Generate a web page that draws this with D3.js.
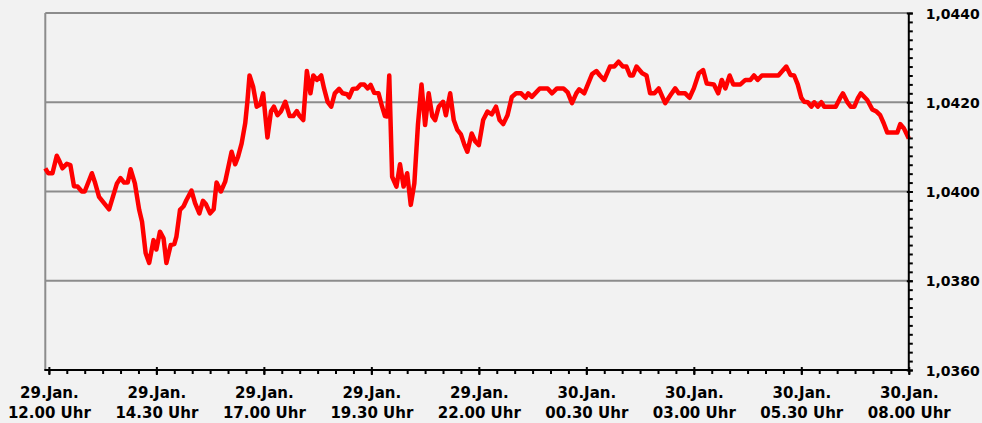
<!DOCTYPE html>
<html>
<head>
<meta charset="utf-8">
<script src="https://cdn.jsdelivr.net/npm/d3@7"></script>
<style>
  html, body { margin: 0; padding: 0; background: #f2f2f2; }
  svg { display: block; }
  text { font-family: "DejaVu Sans", Verdana, sans-serif; font-weight: bold; font-size: 15px; fill: #000; }
</style>
</head>
<body>
<svg id="chart" width="982" height="423"></svg>
<script>
// ---- data ----
const times = [
  "29 11:55","29 11:59","29 12:05","29 12:11","29 12:15","29 12:19","29 12:25","29 12:30","29 12:35","29 12:40",
  "29 12:46","29 12:50","29 13:00","29 13:04","29 13:10","29 13:24","29 13:35","29 13:40","29 13:45","29 13:50",
  "29 13:54","29 14:00","29 14:06","29 14:10","29 14:15","29 14:20","29 14:26","29 14:30","29 14:35","29 14:40",
  "29 14:44","29 14:50","29 14:55","29 14:58","29 15:03","29 15:08","29 15:12","29 15:19","29 15:24","29 15:30",
  "29 15:35","29 15:39","29 15:45","29 15:50","29 15:54","29 16:00","29 16:06","29 16:15","29 16:20","29 16:24",
  "29 16:29","29 16:34","29 16:37","29 16:40","29 16:45","29 16:50","29 16:55","29 16:59","29 17:05","29 17:10",
  "29 17:14","29 17:19","29 17:24","29 17:30","29 17:36","29 17:41","29 17:46","29 17:50","29 17:55","29 18:00",
  "29 18:05","29 18:09","29 18:14","29 18:20","29 18:24","29 18:29","29 18:34","29 18:39","29 18:45","29 18:50",
  "29 18:56","29 18:59","29 19:04","29 19:10","29 19:15","29 19:20","29 19:25","29 19:29","29 19:34","29 19:40",
  "29 19:45","29 19:49","29 19:52","29 19:55","29 19:59","29 20:05","29 20:10","29 20:15","29 20:20","29 20:25",
  "29 20:30","29 20:35","29 20:40","29 20:45","29 20:50","29 20:55","29 20:59","29 21:04","29 21:10","29 21:14",
  "29 21:20","29 21:25","29 21:30","29 21:35","29 21:40","29 21:44","29 21:50","29 21:55","29 22:00","29 22:06",
  "29 22:12","29 22:18","29 22:24","29 22:29","29 22:34","29 22:40","29 22:46","29 22:52","29 22:59","29 23:05",
  "29 23:09","29 23:14","29 23:25","29 23:36","29 23:42","29 23:49","29 23:58","30 00:04","30 00:10","30 00:16",
  "30 00:20","30 00:27","30 00:38","30 00:44","30 00:49","30 00:55","30 01:03","30 01:09","30 01:15","30 01:21",
  "30 01:26","30 01:31","30 01:35","30 01:40","30 01:48","30 01:54","30 01:59","30 02:05","30 02:11","30 02:20",
  "30 02:27","30 02:34","30 02:39","30 02:48","30 02:54","30 03:00","30 03:07","30 03:13","30 03:18","30 03:28",
  "30 03:34","30 03:39","30 03:44","30 03:50","30 03:55","30 04:05","30 04:12","30 04:19","30 04:24","30 04:29",
  "30 04:35","30 04:58","30 05:09","30 05:15","30 05:20","30 05:25","30 05:30","30 05:34","30 05:39","30 05:44",
  "30 05:48","30 05:53","30 05:58","30 06:02","30 06:18","30 06:24","30 06:28","30 06:34","30 06:39","30 06:44",
  "30 06:49","30 06:53","30 07:02","30 07:09","30 07:15","30 07:20","30 07:25","30 07:30","30 07:44","30 07:48",
  "30 07:53","30 08:00"
];
const values = [
  1.04052,1.04041,1.04041,1.04080,1.04067,1.04052,1.04062,1.04059,1.04012,1.04011,
  1.04000,1.04000,1.04041,1.04022,1.03988,1.03960,1.04018,1.04030,1.04020,1.04020,
  1.04050,1.04018,1.03959,1.03932,1.03862,1.03840,1.03891,1.03870,1.03910,1.03895,
  1.03840,1.03880,1.03882,1.03899,1.03959,1.03967,1.03981,1.04002,1.03974,1.03951,
  1.03979,1.03972,1.03951,1.03960,1.04020,1.04000,1.04022,1.04089,1.04061,1.04078,
  1.04108,1.04153,1.04201,1.04260,1.04235,1.04190,1.04195,1.04220,1.04121,1.04180,
  1.04190,1.04171,1.04180,1.04201,1.04169,1.04169,1.04180,1.04169,1.04160,1.04270,
  1.04220,1.04260,1.04250,1.04260,1.04231,1.04201,1.04190,1.04220,1.04230,1.04220,
  1.04218,1.04211,1.04230,1.04231,1.04240,1.04240,1.04231,1.04239,1.04221,1.04220,
  1.04190,1.04169,1.04168,1.04260,1.04033,1.04011,1.04061,1.04011,1.04041,1.03970,
  1.04018,1.04149,1.04240,1.04149,1.04220,1.04169,1.04160,1.04190,1.04201,1.04171,
  1.04220,1.04160,1.04138,1.04128,1.04104,1.04089,1.04130,1.04112,1.04104,1.04160,
  1.04179,1.04173,1.04190,1.04160,1.04151,1.04171,1.04212,1.04220,1.04220,1.04210,
  1.04220,1.04212,1.04231,1.04231,1.04220,1.04231,1.04231,1.04222,1.04198,1.04220,
  1.04229,1.04220,1.04263,1.04270,1.04260,1.04250,1.04280,1.04280,1.04291,1.04280,
  1.04280,1.04260,1.04260,1.04280,1.04265,1.04260,1.04220,1.04220,1.04231,1.04198,
  1.04215,1.04231,1.04220,1.04220,1.04210,1.04231,1.04265,1.04272,1.04242,1.04240,
  1.04220,1.04250,1.04231,1.04260,1.04240,1.04240,1.04250,1.04250,1.04260,1.04250,
  1.04260,1.04260,1.04280,1.04261,1.04260,1.04240,1.04210,1.04201,1.04200,1.04190,
  1.04200,1.04190,1.04200,1.04190,1.04190,1.04209,1.04220,1.04201,1.04190,1.04190,
  1.04209,1.04220,1.04205,1.04184,1.04179,1.04171,1.04153,1.04132,1.04132,1.04151,
  1.04142,1.04119
];
const xDomain = ["29 11:55", "30 08:00"];
const xTickTimes = ["29 12:00","29 14:30","29 17:00","29 19:30","29 22:00","30 00:30","30 03:00","30 05:30","30 08:00"];
const xTickLine1 = ["29.Jan.","29.Jan.","29.Jan.","29.Jan.","29.Jan.","30.Jan.","30.Jan.","30.Jan.","30.Jan."];
const xTickLine2 = ["12.00 Uhr","14.30 Uhr","17.00 Uhr","19.30 Uhr","22.00 Uhr","00.30 Uhr","03.00 Uhr","05.30 Uhr","08.00 Uhr"];
const xMinorStepMinutes = 25;
const yDomain = [1.0360, 1.0440];
const yTicks = [1.0360, 1.0380, 1.0400, 1.0420, 1.0440];
const yMinorStep = 0.0002;

// ---- chart ----
const parse = d3.timeParse("%d %H:%M");
const data = times.map((t, i) => ({ t: parse(t), v: values[i] }));

const L = 45.3, R = 908.8, T = 13, B = 370;
const svg = d3.select("#chart");

const x = d3.scaleTime().domain(xDomain.map(parse)).range([L, R]);
const y = d3.scaleLinear().domain(yDomain).range([B, T]);

const de = d3.formatLocale({ decimal: ",", thousands: ".", grouping: [3], currency: ["", "€"] });
const yFmt = de.format(".4f");
const FONT = '"DejaVu Sans", Verdana, sans-serif';

// background
svg.append("rect").attr("width", 982).attr("height", 423).attr("fill", "#f2f2f2");

// gridlines (incl. top border)
svg.append("g").selectAll("line")
  .data(yTicks.filter(d => d > yDomain[0]))
  .join("line")
  .attr("x1", L).attr("x2", R)
  .attr("y1", d => y(d)).attr("y2", d => y(d))
  .attr("stroke", "#8c8c8c").attr("stroke-width", 2);

// left border
svg.append("line")
  .attr("x1", L).attr("x2", L).attr("y1", T).attr("y2", B)
  .attr("stroke", "#8c8c8c").attr("stroke-width", 2);

// data line
const line = d3.line().x(d => x(d.t)).y(d => y(d.v));
svg.append("path")
  .datum(data)
  .attr("d", line)
  .attr("fill", "none")
  .attr("stroke", "#ff0000")
  .attr("stroke-width", 4.5)
  .attr("stroke-linejoin", "round")
  .attr("stroke-linecap", "butt");

// bottom axis: minor ticks
const t0 = parse(xTickTimes[0]);
const tEnd = parse(xTickTimes[xTickTimes.length - 1]);
const xMinor = d3.timeMinute.every(1).range(t0, d3.timeMinute.offset(tEnd, 1))
  .filter(d => ((d - t0) / 60000) % xMinorStepMinutes === 0);

const gxMinor = svg.append("g").attr("transform", `translate(0,${B})`)
  .call(d3.axisBottom(x).tickValues(xMinor).tickSizeInner(4).tickSizeOuter(0).tickFormat(""));
gxMinor.select(".domain").remove();
gxMinor.selectAll(".tick line").attr("stroke", "#000").attr("stroke-width", 2);

const gx = svg.append("g").attr("transform", `translate(0,${B})`)
  .call(d3.axisBottom(x).tickValues(xTickTimes.map(parse)).tickSizeInner(5).tickSizeOuter(0).tickFormat(""));
gx.select(".domain").remove();
gx.selectAll(".tick line").attr("stroke", "#000").attr("stroke-width", 2).attr("y1", -3);
gx.selectAll(".tick").each(function(d, i) {
  const txt = d3.select(this).append("text").attr("text-anchor", "middle").attr("fill", "#000")
    .style("font-family", FONT).style("font-weight", "bold").style("font-size", "15px");
  txt.append("tspan").attr("x", 0).attr("y", 28).text(xTickLine1[i]);
  txt.append("tspan").attr("x", 0).attr("y", 47.5).text(xTickLine2[i]);
});
svg.append("line")
  .attr("x1", L - 1).attr("x2", R + 1).attr("y1", B).attr("y2", B)
  .attr("stroke", "#000").attr("stroke-width", 2);

// right axis
const yMinor = d3.range(yDomain[0], yDomain[1] + yMinorStep / 2, yMinorStep);
const gyMinor = svg.append("g").attr("transform", `translate(${R},0)`)
  .call(d3.axisRight(y).tickValues(yMinor).tickSizeInner(4).tickSizeOuter(0).tickFormat(""));
gyMinor.select(".domain").remove();
gyMinor.selectAll(".tick line").attr("stroke", "#000").attr("stroke-width", 2);

const gy = svg.append("g").attr("transform", `translate(${R},0)`)
  .call(d3.axisRight(y).tickValues(yTicks).tickSizeInner(4).tickSizeOuter(0).tickPadding(13).tickFormat(yFmt));
gy.select(".domain").remove();
gy.selectAll(".tick line").attr("stroke", "#000").attr("stroke-width", 2).attr("x1", -2);
gy.selectAll(".tick text")
  .attr("fill", "#000")
  .attr("dy", "0.36em")
  .style("font-family", FONT)
  .style("font-weight", "bold")
  .style("font-size", "14px");

svg.append("line")
  .attr("x1", R).attr("x2", R).attr("y1", T).attr("y2", B + 1)
  .attr("stroke", "#000").attr("stroke-width", 2);
</script>
</body>
</html>
